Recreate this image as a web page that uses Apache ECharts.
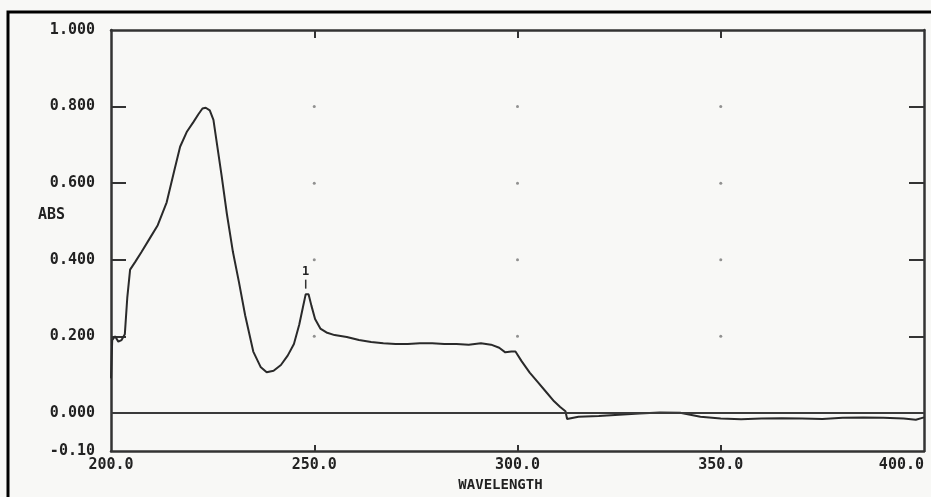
<!DOCTYPE html>
<html>
<head>
<meta charset="utf-8">
<script src="https://cdn.jsdelivr.net/npm/echarts@6/dist/echarts.min.js"></script>
<style>
  html, body { margin: 0; padding: 0; background: #f8f8f6; }
  #chart { width: 931px; height: 497px; }
</style>
</head>
<body>
<div id="chart"></div>
<script>
// wavelength (nm) / absorbance
var wavelength = [200, 200.3, 201, 201.8, 202.6, 203.4, 204.0, 204.7, 206, 207.5, 209.5, 211.5, 213.7, 215.5, 217, 218.7, 220.3, 221.5, 222.5, 223.3, 224.3, 225.2, 226.1, 227.2, 228.5, 230, 231.5, 233, 235, 236.8, 238.3, 240, 241.8, 243.5, 245, 246.3, 247.2, 247.9, 248.6, 249.3, 250.2, 251.5, 253, 255, 258, 261, 264, 267, 270, 273, 276, 279, 282, 285, 288, 291, 293.5, 295.5, 297, 298.5, 299.5, 301, 303, 305, 307, 309, 310.5, 311.8, 312.2, 315, 320, 325, 330, 335, 340, 345, 350, 355, 360, 365, 370, 375, 380, 385, 390, 395, 398, 400];
var absorbance = [0.09, 0.19, 0.2, 0.186, 0.19, 0.205, 0.3, 0.374, 0.395, 0.42, 0.455, 0.49, 0.55, 0.63, 0.695, 0.735, 0.76, 0.78, 0.795, 0.797, 0.79, 0.765, 0.70, 0.62, 0.52, 0.42, 0.34, 0.255, 0.16, 0.12, 0.106, 0.11, 0.125, 0.15, 0.18, 0.23, 0.275, 0.31, 0.31, 0.28, 0.245, 0.22, 0.21, 0.203, 0.198, 0.19, 0.185, 0.182, 0.18, 0.18, 0.182, 0.182, 0.18, 0.18, 0.178, 0.182, 0.178, 0.17, 0.158, 0.16, 0.16, 0.135, 0.105, 0.08, 0.055, 0.03, 0.015, 0.004, -0.016, -0.01, -0.008, -0.005, -0.002, 0.001, 0.0, -0.01, -0.015, -0.017, -0.015, -0.014, -0.015, -0.016, -0.013, -0.012, -0.013, -0.015, -0.018, -0.012];

var yLabels = [-0.1, 0, 0.2, 0.4, 0.6, 0.8, 1.0];
var yTicks = [0.2, 0.4, 0.6, 0.8];
var xTicks = [250, 300, 350];
var peakNo = '1';
var peakWl = 247.9;

var seriesData = [];
for (var i = 0; i < wavelength.length; i++) {
  seriesData.push([wavelength[i], absorbance[i]]);
}
var peakAbs = absorbance[wavelength.indexOf(peakWl)];

// dots at grid crossings
var gridDots = [];
xTicks.forEach(function (x) {
  yTicks.forEach(function (y) { gridDots.push([x, y]); });
});

var font = { fontFamily: 'DejaVu Sans Mono', fontWeight: 'bold', fontSize: 15, color: '#222' };
var frame = { show: true, onZero: false, lineStyle: { color: '#333', width: 2.5 } };
var tickStyle = { color: '#333', width: 2 };

var chart = echarts.init(document.getElementById('chart'));
chart.setOption({
  backgroundColor: '#f8f8f6',
  animation: false,
  grid: { left: 111, top: 30, right: 7, bottom: 45 },
  graphic: [{
    type: 'rect',
    shape: { x: 8, y: 12, width: 940, height: 500 },
    style: { fill: 'none', stroke: '#000', lineWidth: 3 },
    silent: true
  }],
  xAxis: [{
    type: 'value',
    min: 200, max: 400, interval: 50,
    position: 'bottom',
    name: 'WAVELENGTH',
    nameLocation: 'middle',
    nameGap: 22,
    nameTextStyle: Object.assign({}, font, { fontSize: 14, padding: [0, 34, 0, 0] }),
    axisLine: frame,
    axisTick: { show: true, inside: true, length: 6, customValues: xTicks, lineStyle: tickStyle },
    axisLabel: Object.assign({}, font, {
      margin: 7, alignMaxLabel: 'right',
      formatter: function (v) { return v.toFixed(1); }
    }),
    splitLine: { show: false }
  }, {
    type: 'value',
    min: 200, max: 400, interval: 50,
    position: 'top',
    axisLine: frame,
    axisTick: { show: true, inside: true, length: 8, customValues: xTicks, lineStyle: tickStyle },
    axisLabel: { show: false },
    splitLine: { show: false }
  }],
  yAxis: [{
    type: 'value',
    min: -0.1, max: 1.0,
    position: 'left',
    name: 'ABS',
    nameLocation: 'middle',
    nameRotate: 0,
    nameGap: 46,
    nameMoveOverlap: false,
    nameTextStyle: Object.assign({}, font, { verticalAlign: 'bottom', lineHeight: 50 }),
    axisLine: frame,
    axisTick: { show: true, inside: true, length: 15, customValues: yTicks, lineStyle: tickStyle },
    axisLabel: Object.assign({}, font, {
      margin: 16, customValues: yLabels,
      formatter: function (v) { return v < 0 ? v.toFixed(2) : v.toFixed(3); }
    }),
    splitLine: { show: false }
  }, {
    type: 'value',
    min: -0.1, max: 1.0,
    position: 'right',
    axisLine: frame,
    axisTick: { show: true, inside: true, length: 15, customValues: yTicks, lineStyle: tickStyle },
    axisLabel: { show: false },
    splitLine: { show: false }
  }],
  series: [{
    type: 'scatter',
    data: gridDots,
    symbolSize: 3,
    itemStyle: { color: '#777' },
    silent: true
  }, {
    type: 'line',
    data: seriesData,
    showSymbol: false,
    lineStyle: { color: '#2a2a2a', width: 2 },
    markLine: {
      silent: true,
      symbol: 'none',
      label: { show: false },
      lineStyle: { color: '#3a3a3a', width: 2, type: 'solid' },
      data: [{ yAxis: 0 }]
    },
    markPoint: {
      silent: true,
      symbol: 'rect',
      symbolSize: [1.5, 9],
      symbolOffset: [0, -10],
      itemStyle: { color: '#333' },
      label: {
        show: true, position: 'top', distance: 2,
        fontFamily: 'DejaVu Sans Mono', fontWeight: 'bold', fontSize: 12, color: '#222',
        formatter: peakNo
      },
      data: [{ coord: [peakWl, peakAbs] }]
    }
  }]
});
</script>
</body>
</html>
